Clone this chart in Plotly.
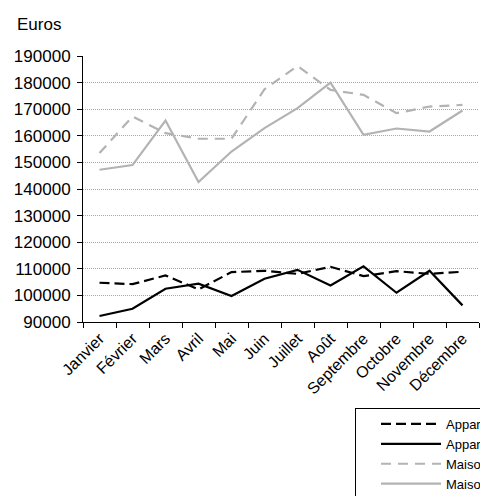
import plotly.graph_objects as go

mois = ["Janvier", "Février", "Mars", "Avril", "Mai", "Juin", "Juillet",
        "Août", "Septembre", "Octobre", "Novembre", "Décembre"]
appart_a = [104750, 104250, 107500, 102250, 108750, 109250, 108100,
            110750, 107250, 109100, 108100, 108900]
appart_b = [92250, 95000, 102500, 104400, 99750, 106250, 109600,
            103750, 110900, 101000, 109250, 96250]
maison_a = [153500, 167250, 161000, 158900, 158900, 177500, 186250,
            177250, 175400, 168500, 171000, 171600]
maison_b = [147250, 149000, 165750, 142600, 154100, 162900, 170400,
            180000, 160400, 162750, 161600, 169500]
noms = ["Appartements 2007", "Appartements 2008", "Maisons 2007", "Maisons 2008"]
y_ticks = list(range(90000, 190001, 10000))

font = "Liberation Sans, Arial, sans-serif"
fig = go.Figure()
styles = [("black", "10px,5px"), ("black", "solid"),
          ("#b3b3b3", "10px,7px"), ("#b3b3b3", "solid")]
for nom, vals, (col, dash) in zip(noms, [appart_a, appart_b, maison_a, maison_b], styles):
    fig.add_trace(go.Scatter(x=mois, y=vals, name=nom, mode="lines",
                             line=dict(color=col, dash=dash, width=2.2)))

fig.update_layout(
    width=480, height=496,
    margin=dict(l=83, r=1, t=56, b=174, autoexpand=False),
    paper_bgcolor="white", plot_bgcolor="white",
    font=dict(family=font, size=17, color="black"),
    showlegend=True,
    legend=dict(xref="container", yref="container", x=355/480, y=1-408/496,
                xanchor="left", yanchor="top",
                bordercolor="black", borderwidth=1, bgcolor="white",
                font=dict(size=13), tracegroupgap=0, itemwidth=60,
                indentation=20),
    xaxis=dict(tickangle=-45, showgrid=False, showline=True, linecolor="black",
               linewidth=1, ticks="outside", tickson="boundaries", ticklen=5,
               tickcolor="black", range=[-0.5, 11.5], tickfont=dict(size=16)),
    yaxis=dict(range=[90000, 190000], tickvals=y_ticks,
               ticktext=[str(v) for v in y_ticks],
               showgrid=True, gridcolor="#a8a8a8", griddash="1px,1px", gridwidth=1,
               showline=True, linecolor="black", linewidth=1,
               ticks="outside", ticklen=5, tickcolor="black", zeroline=False,
               ticklabelstandoff=3),
    annotations=[dict(text="Euros", xref="paper", yref="paper",
                      x=(15 - 83) / 396, y=1 + (56 - 24) / 266,
                      xanchor="left", yanchor="middle", showarrow=False,
                      font=dict(size=17))],
)
fig.write_html("out.html", post_script="document.body.style.margin='0';",
               config={"displayModeBar": False})
